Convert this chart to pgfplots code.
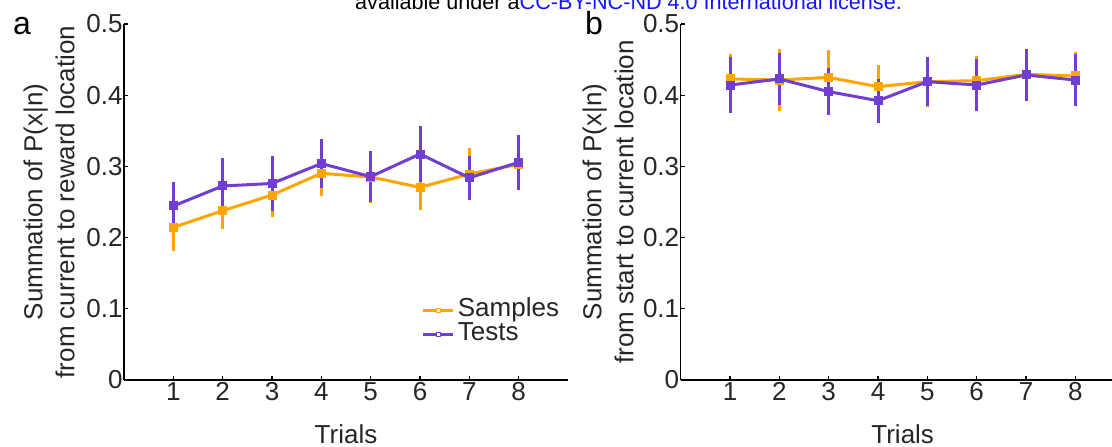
\documentclass[border=0pt]{standalone}
\usepackage{pgfplots}
\pgfplotsset{compat=1.18}
\usepackage{fontspec}
\setmainfont{Liberation Sans}
\definecolor{samp}{RGB}{255,165,0}
\definecolor{tst}{RGB}{112,62,208}
\definecolor{lnk}{RGB}{20,20,255}

\pgfplotstableread{
x y e
1 0.2144 0.033
2 0.2378 0.026
3 0.2598 0.031
4 0.2903 0.032
5 0.2851 0.036
6 0.2706 0.032
7 0.2893 0.036
8 0.3029 0.035
}\sampA
\pgfplotstableread{
x y e
1 0.2444 0.034
2 0.2725 0.039
3 0.2760 0.039
4 0.3040 0.035
5 0.2856 0.036
6 0.3174 0.039
7 0.2840 0.031
8 0.3057 0.039
}\testA
\pgfplotstableread{
x y e
1 0.4228 0.035
2 0.4213 0.043
3 0.4250 0.038
4 0.4120 0.031
5 0.4190 0.035
6 0.4204 0.035
7 0.4293 0.036
8 0.4270 0.034
}\sampB
\pgfplotstableread{
x y e
1 0.4143 0.040
2 0.4228 0.036
3 0.4050 0.033
4 0.3923 0.031
5 0.4190 0.034
6 0.4143 0.037
7 0.4284 0.036
8 0.4213 0.036
}\testB

\pgfplotsset{
  panel/.style={
    scale only axis, width=444pt, height=356pt,
    anchor=south west,
    xmin=0, xmax=9, ymin=0, ymax=0.5,
    axis x line*=bottom, axis y line*=left,
    axis line style={black, line width=1.1pt, -},
    tick align=inside, major tick length=4pt,
    tick style={black, line width=1.1pt},
    xtick={1,2,3,4,5,6,7,8},
    xticklabels={1,2,3,4,5,6,7,8},
    ytick={0,0.1,0.2,0.3,0.4,0.5},
    yticklabels={0,0.1,0.2,0.3,0.4,0.5},
    tick label style={font=\fontsize{26}{31}\selectfont, text=black!85},
    yticklabel style={xshift=2pt},
    xticklabel style={yshift=1pt},
    label style={font=\fontsize{26}{32}\selectfont, text=black!85},
    xlabel={Trials},
    xlabel style={at={(axis description cs:0.5,-0.152)}, anchor=center},
    clip=false,
  },
  samp/.style={color=samp, line width=3pt, mark=square*, mark size=3pt,
    mark options={solid, fill=samp},
    error bars/.cd, y dir=both, y explicit, error mark=none,
    error bar style={line width=3pt, samp}},
  tst/.style={color=tst, line width=3pt, mark=square*, mark size=3pt,
    mark options={solid, fill=tst},
    error bars/.cd, y dir=both, y explicit, error mark=none,
    error bar style={line width=3pt, tst}},
}

\begin{document}
\begin{tikzpicture}[x=1pt,y=1pt]
\useasboundingbox (0pt,0pt) rectangle (1112pt,447pt);

\node[anchor=base west, font=\fontsize{21.6}{26}\selectfont, inner sep=0pt] at (355pt,437pt)
  {available under a\textcolor{lnk}{CC-BY-NC-ND 4.0 International license.}};

\node[anchor=base west, font=\fontsize{32}{36}\selectfont, inner sep=0pt] at (13pt,412pt) {a};
\node[anchor=base west, font=\fontsize{32}{36}\selectfont, inner sep=0pt] at (585pt,412pt) {b};

\begin{axis}[panel, at={(124pt,67pt)},
  ylabel={Summation of P(x|n)\\from current to reward location},
  ylabel style={align=center, at={(axis description cs:-0.169,0.5)}, anchor=center},
  legend style={draw=none, fill=none, at={(axis description cs:0.6705,0.1615)}, anchor=west,
    inner sep=0pt, font=\fontsize{26}{30}\selectfont, text=black!85,
    nodes={inner sep=0pt, text height=18pt, text depth=5.6pt}, column sep=3pt},
  legend cell align=left,
  legend image code/.code={
    \draw[#1, mark=none] (0pt,0pt) -- (30pt,0pt);
    \draw[#1, line width=1pt, mark size=2pt, mark options={fill=white}] plot coordinates {(15pt,0pt)};
  },
]
\addplot+[samp] table[x=x, y=y, y error=e] {\sampA};
\addlegendentry{Samples}
\addplot+[tst] table[x=x, y=y, y error=e] {\testA};
\addlegendentry{Tests}
\end{axis}

\begin{axis}[panel, at={(680.7pt,67pt)},
  ylabel={Summation of P(x|n)\\from start to current location},
  ylabel style={align=center, at={(axis description cs:-0.1636,0.5)}, anchor=center},
]
\addplot+[samp] table[x=x, y=y, y error=e] {\sampB};
\addplot+[tst] table[x=x, y=y, y error=e] {\testB};
\end{axis}
\end{tikzpicture}
\end{document}
